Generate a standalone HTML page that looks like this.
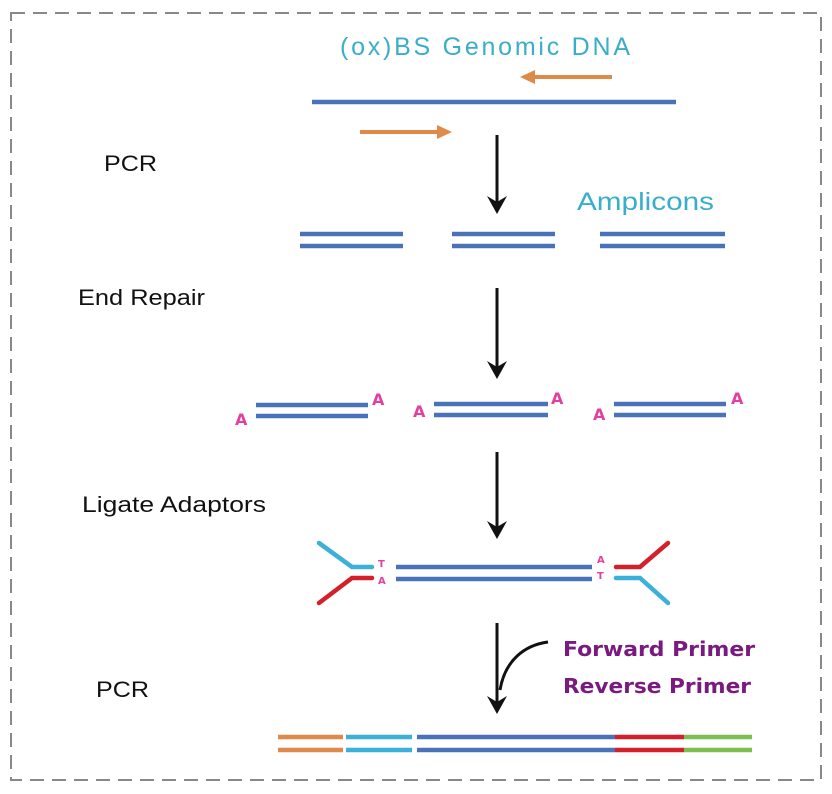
<!DOCTYPE html>
<html><head><style>
html,body{margin:0;padding:0;background:#fff;}
svg{display:block;}
</style></head><body>
<svg width="832" height="794" viewBox="0 0 832 794" xmlns="http://www.w3.org/2000/svg">
<rect x="11" y="13" width="810" height="767" fill="none" stroke="#888" stroke-width="2" stroke-dasharray="14,8"/>
<g font-family="Liberation Sans, DejaVu Sans, sans-serif">
<text x="340" y="55" font-size="25" fill="#3aaec8" textLength="290" lengthAdjust="spacing">(ox)BS  Genomic  DNA</text>
<text x="577" y="210" font-size="25" fill="#3aaec8" textLength="137" lengthAdjust="spacingAndGlyphs">Amplicons</text>
<g font-size="22" fill="#111">
<text x="104" y="171" textLength="53" lengthAdjust="spacingAndGlyphs">PCR</text>
<text x="78" y="305" textLength="127" lengthAdjust="spacingAndGlyphs">End Repair</text>
<text x="82" y="512" textLength="184" lengthAdjust="spacingAndGlyphs">Ligate Adaptors</text>
<text x="96" y="697" textLength="53" lengthAdjust="spacingAndGlyphs">PCR</text>
</g>
<g font-family="DejaVu Sans, sans-serif" font-weight="bold" font-size="20" fill="#7a1a80">
<text x="563" y="656" textLength="192" lengthAdjust="spacingAndGlyphs">Forward Primer</text>
<text x="563" y="693" textLength="188" lengthAdjust="spacingAndGlyphs">Reverse Primer</text>
</g>
</g>
<g stroke="#e08a4a" stroke-width="4" fill="#e08a4a">
<line x1="612" y1="77" x2="532" y2="77"/><path d="M520,77 L535,70 L535,84 Z" stroke="none"/>
<line x1="360" y1="132" x2="440" y2="132"/><path d="M452,132 L437,125 L437,139 Z" stroke="none"/>
</g>
<g stroke="#4a72b8" stroke-width="4.5">
<line x1="312" y1="102" x2="676" y2="102"/>
<line x1="300" y1="234" x2="403" y2="234"/><line x1="300" y1="246" x2="403" y2="246"/>
<line x1="452" y1="234" x2="555" y2="234"/><line x1="452" y1="246" x2="555" y2="246"/>
<line x1="600" y1="234" x2="725" y2="234"/><line x1="600" y1="246" x2="725" y2="246"/>
<line x1="256" y1="405" x2="368" y2="405"/><line x1="256" y1="416" x2="368" y2="416"/>
<line x1="434" y1="404" x2="548" y2="404"/><line x1="434" y1="415" x2="548" y2="415"/>
<line x1="614" y1="404" x2="726" y2="404"/><line x1="614" y1="415" x2="726" y2="415"/>
<line x1="396" y1="567" x2="592" y2="567"/><line x1="396" y1="579" x2="592" y2="579"/>
</g>
<g font-family="DejaVu Sans, sans-serif" font-weight="bold" fill="#e040a0" font-size="16">
<text x="235" y="425">A</text><text x="372" y="405">A</text>
<text x="413" y="417">A</text><text x="551" y="404">A</text>
<text x="593" y="420">A</text><text x="731" y="404">A</text>
<g font-size="10"><text x="378" y="567">T</text><text x="378" y="584">A</text><text x="597" y="563">A</text><text x="597" y="579">T</text></g>
</g>
<g fill="none" stroke-width="4.5" stroke-linecap="round">
<path d="M319,543 L352,567 L372,567" stroke="#3bb0d8"/>
<path d="M319,603 L352,578 L372,578" stroke="#d4202a"/>
<path d="M616,567 L640,567 L668,543" stroke="#d4202a"/>
<path d="M616,578 L640,578 L668,603" stroke="#3bb0d8"/>
</g>
<g stroke="#111" stroke-width="3" fill="none">
<line x1="497" y1="135" x2="497" y2="205"/>
<line x1="497" y1="288" x2="497" y2="370"/>
<line x1="497" y1="452" x2="497" y2="530"/>
<line x1="497" y1="623" x2="497" y2="705"/>
<path d="M548,642 C525,645 505,660 500,690"/>
</g>
<g fill="#111">
<path d="M487,196 L497,214 L507,196 L497,202 Z"/>
<path d="M487,361 L497,379 L507,361 L497,367 Z"/>
<path d="M487,521 L497,539 L507,521 L497,527 Z"/>
<path d="M487,696 L497,714 L507,696 L497,702 Z"/>
</g>
<g stroke-width="4.5">
<g stroke="#e08a4a"><line x1="278" y1="737" x2="343" y2="737"/><line x1="278" y1="750" x2="343" y2="750"/></g>
<g stroke="#3bb0d8"><line x1="346" y1="737" x2="412" y2="737"/><line x1="346" y1="750" x2="412" y2="750"/></g>
<g stroke="#4a72b8"><line x1="417" y1="737" x2="615" y2="737"/><line x1="417" y1="750" x2="615" y2="750"/></g>
<g stroke="#d4202a"><line x1="615" y1="737" x2="684" y2="737"/><line x1="615" y1="750" x2="684" y2="750"/></g>
<g stroke="#7cbf50"><line x1="684" y1="737" x2="752" y2="737"/><line x1="684" y1="750" x2="752" y2="750"/></g>
</g>
</svg>
</body></html>
